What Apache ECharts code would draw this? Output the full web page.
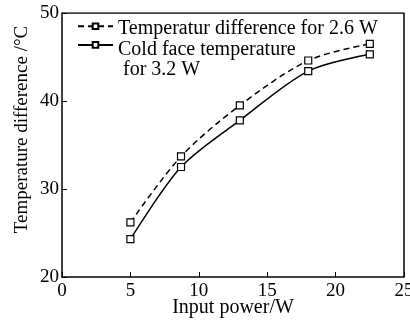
<!DOCTYPE html>
<html>
<head>
<meta charset="utf-8">
<script src="https://cdn.jsdelivr.net/npm/echarts@6/dist/echarts.min.js"></script>
<style>html,body{margin:0;padding:0;background:#fff}#chart{width:410px;height:320px}</style>
</head>
<body>
<div id="chart"></div>
<script>
// 读图估计的数据
const power = [5, 8.7, 13, 18, 22.5];
const diff26 = [26.2, 33.7, 39.5, 44.6, 46.5];
const cold32 = [24.3, 32.5, 37.8, 43.4, 45.3];
const xTicks = [0, 5, 10, 15, 20, 25];
const yTicks = [20, 30, 40, 50];
const legendText = ['Temperatur difference for 2.6 W', 'Cold face temperature', 'for 3.2 W'];

const font = 'Liberation Serif';
const chart = echarts.init(document.getElementById('chart'));
const pair = (xs, ys) => xs.map((x, i) => [x, ys[i]]);
const label = (text, x, y) => ({
    type: 'text', x: x, y: y,
    style: {text: text, font: '20px "Liberation Serif"', fill: '#000', verticalAlign: 'middle'}
});

chart.setOption({
    animation: false,
    grid: {left: 62, right: 6, top: 13, bottom: 43, outerBoundsMode: 'none'},
    // 图例只画线和方块，文字用 graphic 对齐
    legend: {
        left: 77,
        top: 22.5,
        orient: 'vertical',
        itemWidth: 35,
        itemHeight: 7,
        itemGap: 11,
        padding: 0,
        data: ['diff', 'cold'],
        textStyle: {fontSize: 7, lineHeight: 7},
        formatter: () => ''
    },
    graphic: [
        label(legendText[0], 118, 28.5),
        label(legendText[1], 118, 49.5),
        label(legendText[2], 123, 70)
    ],
    xAxis: {
        type: 'value',
        min: xTicks[0],
        max: xTicks[xTicks.length - 1],
        interval: 5,
        name: 'Input power/W',
        nameLocation: 'middle',
        nameGap: 21,
        nameMoveOverlap: false,
        nameTextStyle: {fontFamily: font, fontSize: 20, color: '#000'},
        axisLine: {lineStyle: {color: '#000', width: 1.5}},
        axisTick: {inside: true, length: 5, lineStyle: {color: '#000'}},
        axisLabel: {fontFamily: font, fontSize: 19, color: '#000', margin: 5},
        splitLine: {show: false}
    },
    yAxis: {
        type: 'value',
        min: yTicks[0],
        max: yTicks[yTicks.length - 1],
        interval: 10,
        name: 'Temperature difference /°C',
        nameLocation: 'middle',
        nameGap: 30,
        nameMoveOverlap: false,
        nameTextStyle: {fontFamily: font, fontSize: 19, color: '#000', padding: [0, 0, 0, 31]},
        axisLine: {lineStyle: {color: '#000', width: 1.5}},
        axisTick: {inside: true, length: 5, lineStyle: {color: '#000'}},
        axisLabel: {fontFamily: font, fontSize: 19, color: '#000', margin: 3},
        splitLine: {show: false}
    },
    series: [
        {
            name: 'diff', type: 'line', data: pair(power, diff26), smooth: 0.3,
            symbol: 'rect', symbolSize: 7,
            lineStyle: {color: '#000', width: 1.5, type: [6, 4]},
            itemStyle: {color: '#fff', borderColor: '#000', borderWidth: 1.2}
        },
        {
            name: 'cold', type: 'line', data: pair(power, cold32), smooth: 0.3,
            symbol: 'rect', symbolSize: 7,
            lineStyle: {color: '#000', width: 1.5},
            itemStyle: {color: '#fff', borderColor: '#000', borderWidth: 1.2}
        },
        // 右侧和上侧边框
        {
            type: 'line', data: [[25, 20], [25, 50], [0, 50]], symbol: 'none', silent: true,
            lineStyle: {color: '#000', width: 1.5}
        }
    ]
});
</script>
</body>
</html>
